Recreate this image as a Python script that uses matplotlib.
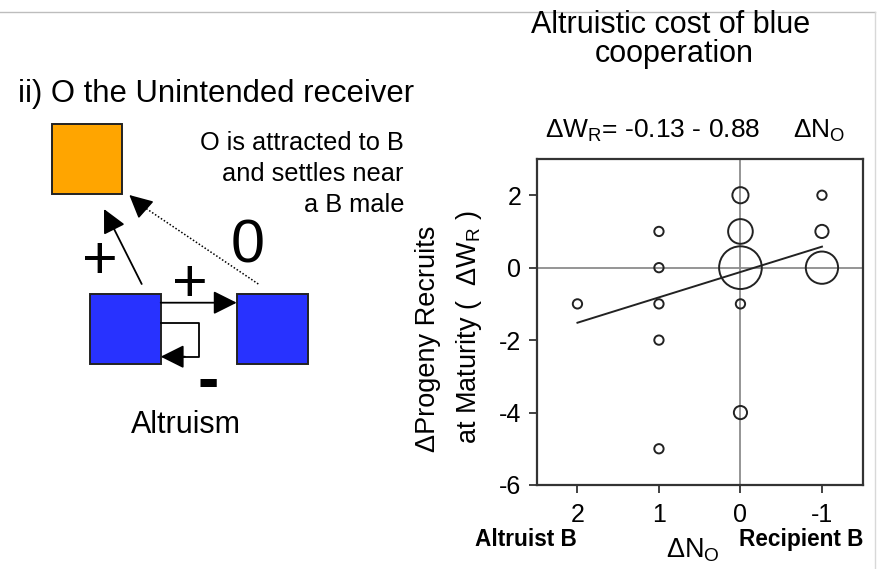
import matplotlib
matplotlib.use('Agg')
import matplotlib.pyplot as plt
from matplotlib.patches import Rectangle

plt.rcParams['font.family'] = ['Liberation Sans', 'DejaVu Sans']
plt.rcParams['mathtext.fontset'] = 'custom'
plt.rcParams['mathtext.rm'] = 'Liberation Sans'
plt.rcParams['mathtext.default'] = 'regular'
plt.rcParams['axes.unicode_minus'] = False

# data
delta_n = [2, 1, 1, 1, 1, 1, 0, 0, 0, 0, 0, -1, -1, -1]
delta_w = [-1, 1, 0, -1, -2, -5, 2, 1, 0, -1, -4, 2, 1, 0]
n_obs = [1, 1, 1, 1, 1, 1, 3, 7, 21, 1, 2, 1, 2, 12]
fit_x = [2, -1]
fit_y = [-1.52, 0.58]
x_ticks = [2, 1, 0, -1]
y_ticks = [2, 0, -2, -4, -6]

blue = '#2832ff'
orange = '#ffa500'

fig = plt.figure(figsize=(8.8, 5.69), dpi=100)

# background layer in pixel units for the diagram and the loose text
bg = fig.add_axes([0, 0, 1, 1])
bg.set_xlim(0, 880)
bg.set_ylim(569, 0)
bg.axis('off')

# thin frame lines
bg.plot([0, 875], [12.3, 12.3], color='#bdbdbd', lw=1)
bg.plot([875, 875], [12.3, 569], color='#d8d8d8', lw=1)

# --- left diagram ---
bg.text(18, 102, 'ii) O the Unintended receiver', fontsize=22.3, va='baseline')

bg.add_patch(Rectangle((52, 123.5), 70, 70, facecolor=orange, edgecolor='#222', lw=1.4))
bg.add_patch(Rectangle((90, 293.5), 70.5, 70.5, facecolor=blue, edgecolor='#222', lw=1.4))
bg.add_patch(Rectangle((237, 293.5), 71, 70.5, facecolor=blue, edgecolor='#222', lw=1.4))

head = '-|>,head_length=0.8,head_width=0.4'
bg.annotate('', xy=(104, 209), xytext=(141.7, 284),
            arrowprops=dict(arrowstyle=head, mutation_scale=18, color='black',
                            lw=1.3, shrinkA=0, shrinkB=0))
bg.plot([258.3, 138], [284, 203], color='black', lw=1.1, ls=(0, (1, 1.3)))
bg.annotate('', xy=(129.3, 195), xytext=(140, 204.5),
            arrowprops=dict(arrowstyle=head, mutation_scale=18, color='black',
                            lw=1.1, shrinkA=0, shrinkB=0))
bg.annotate('', xy=(236.7, 302.7), xytext=(160.7, 302.7),
            arrowprops=dict(arrowstyle=head, mutation_scale=18, color='black',
                            lw=1.3, shrinkA=0, shrinkB=0))
bg.plot([160.7, 198.7, 198.7, 180], [323.3, 323.3, 356.7, 356.7], color='black', lw=1.3)
bg.annotate('', xy=(160.7, 356.7), xytext=(185, 356.7),
            arrowprops=dict(arrowstyle=head, mutation_scale=18, color='black',
                            lw=1.3, shrinkA=0, shrinkB=0))

bg.text(100, 262, '+', fontsize=44, ha='center', va='center')
bg.text(190, 285, '+', fontsize=44, ha='center', va='center')
bg.text(247.5, 262, '0', fontsize=44, ha='center', va='baseline')
bg.text(208.5, 383, '-', fontsize=46, fontweight='bold', ha='center', va='center')
bg.text(186, 433, 'Altruism', fontsize=22, ha='center', va='baseline')

note_lines = ['O is attracted to B', 'and settles near', 'a B male']
for i, line in enumerate(note_lines):
    bg.text(404, 150 + 31 * i, line, fontsize=18.3, ha='right', va='baseline')

# --- right chart texts ---
bg.text(671, 33, 'Altruistic cost of blue', fontsize=22, ha='center', va='baseline')
bg.text(674, 62, 'cooperation', fontsize=22, ha='center', va='baseline')
bg.text(545, 138, 'ΔW$_R$= -0.13 - 0.88', fontsize=19, ha='left', va='baseline')
bg.text(793, 138, 'ΔN$_O$', fontsize=19, ha='left', va='baseline')

bg.text(428, 339, 'ΔProgeny Recruits', fontsize=19.5, rotation=90, ha='center', va='center')
bg.text(469, 327, 'at Maturity (  ΔW$_R$ )', fontsize=19.5, rotation=90, ha='center', va='center')

bg.text(475, 546, 'Altruist B', fontsize=16.3, fontweight='bold', ha='left', va='baseline')
bg.text(863, 546, 'Recipient B', fontsize=16.3, fontweight='bold', ha='right', va='baseline')
bg.text(666, 558, 'ΔN$_O$', fontsize=19.5, ha='left', va='baseline')

# --- scatter plot ---
ax = fig.add_axes([536.7 / 880, (569 - 485) / 569, 326 / 880, 326 / 569])
ax.axhline(0, color='#8c8c8c', lw=1.3, zorder=1)
ax.axvline(0, color='#8c8c8c', lw=1.3, zorder=1)
ax.scatter(delta_n, delta_w, s=[45 * n for n in n_obs], facecolors='none',
           edgecolors='#222222', linewidths=1.4, zorder=3)
ax.plot(fit_x, fit_y, color='#222222', lw=1.4, zorder=2)

ax.set_xlim(2.5, -1.5)
ax.set_ylim(-6, 3)
ax.set_xticks(x_ticks)
ax.set_yticks(y_ticks)
ax.tick_params(direction='out', length=6, width=1.3, color='#333333',
               labelsize=18, pad=5)
ax.tick_params(axis='x', pad=7)
for side in ['top', 'right', 'left', 'bottom']:
    ax.spines[side].set_color('#333333')
    ax.spines[side].set_linewidth(1.6)

fig.savefig('out.png', dpi=100)
